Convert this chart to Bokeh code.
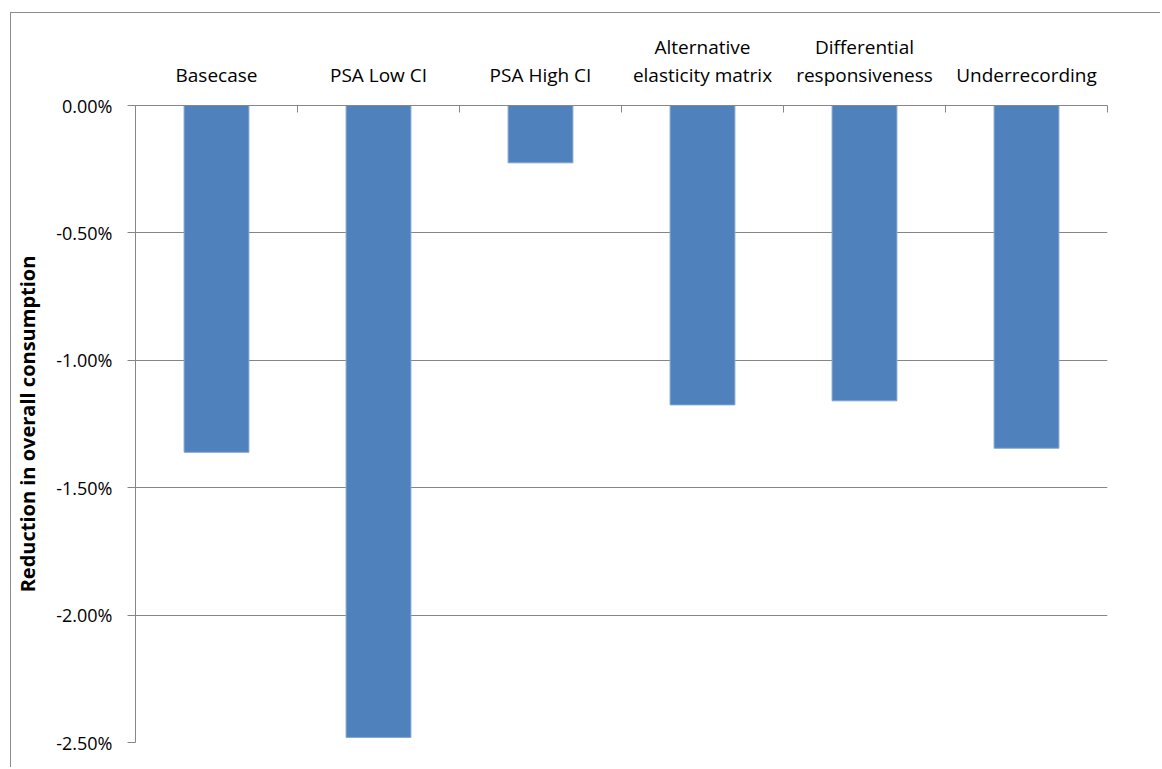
from bokeh.plotting import figure
from bokeh.models import (Range1d, LinearAxis, FixedTicker, NumeralTickFormatter,
                          ColumnDataSource)
from bokeh.embed import file_html
from bokeh.resources import INLINE

categories = ["Basecase", "PSA Low CI", "PSA High CI",
              "Alternative\nelasticity matrix", "Differential\nresponsiveness",
              "Underrecording"]
reduction = [-0.01361, -0.02480, -0.00225, -0.01175, -0.01159, -0.01345]
y_ticks = [-0.025, -0.02, -0.015, -0.01, -0.005, 0.0]

FONT = "Open Sans"
GRAY = "#868686"

n = len(categories)
centers = [i + 0.5 for i in range(n)]
src = ColumnDataSource(dict(x=centers, top=[0.0] * n, bottom=reduction))

# figure is offset by its CSS margin (10px, 12px) + 1px border
p = figure(width=1150, height=755, output_backend="svg", toolbar_location=None,
           x_range=Range1d(0, n), y_range=Range1d(-0.025, 0.0),
           x_axis_location=None, y_axis_location="left",
           min_border_left=124, min_border_right=54,
           min_border_top=92, min_border_bottom=26,
           styles={"margin-left": "10px", "margin-top": "12px",
                   "border-left": "1px solid #8C8C8C",
                   "border-top": "1px solid #8C8C8C"})
p.outline_line_color = None
p.background_fill_color = "white"
p.border_fill_color = "white"
p.xgrid.visible = False

p.vbar(x="x", top="top", bottom="bottom", width=0.4, source=src,
       fill_color="#4F81BD", line_color="#7FA3D1", line_width=1)

# y axis
ya = p.yaxis[0]
ya.ticker = FixedTicker(ticks=y_ticks)
ya.formatter = NumeralTickFormatter(format="0.00%")
ya.axis_line_color = GRAY
ya.major_tick_line_color = GRAY
ya.major_tick_out = 8
ya.major_tick_in = 0
ya.minor_tick_line_color = None
ya.major_label_standoff = 15
ya.major_label_text_font = FONT
ya.major_label_text_font_size = "18px"
ya.major_label_text_color = "black"
ya.axis_label = "Reduction in overall consumption"
ya.axis_label_text_font = FONT
ya.axis_label_text_font_size = "20px"
ya.axis_label_text_font_style = "bold"
ya.axis_label_text_color = "black"
ya.axis_label_standoff = 12

p.ygrid.ticker = FixedTicker(ticks=y_ticks)
p.ygrid.grid_line_color = GRAY

# top axis: boundary ticks
bounds = list(range(n + 1))
tick_axis = LinearAxis(ticker=FixedTicker(ticks=bounds),
                       major_label_overrides={b: "" for b in bounds},
                       axis_line_color=GRAY, major_tick_line_color=GRAY,
                       major_tick_in=7, major_tick_out=0,
                       minor_tick_line_color=None, major_label_standoff=0,
                       major_label_text_font_size="1px")
p.add_layout(tick_axis, "above")

label_axis = LinearAxis(ticker=FixedTicker(ticks=centers),
                        major_label_overrides={c: lab for c, lab in zip(centers, categories)},
                        axis_line_color=None, major_tick_line_color=None,
                        minor_tick_line_color=None,
                        major_tick_in=0, major_tick_out=0,
                        major_label_standoff=18,
                        major_label_text_font=FONT,
                        major_label_text_font_size="19px",
                        major_label_text_color="black",
                        major_label_text_line_height=1.05)
p.add_layout(label_axis, "above")

open("out.html", "w").write(file_html(p, INLINE))
